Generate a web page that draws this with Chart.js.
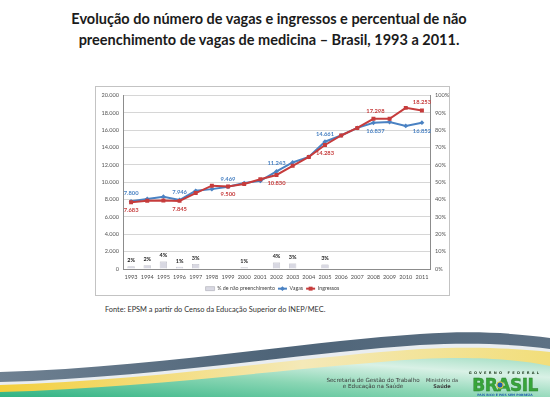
<!DOCTYPE html>
<html>
<head>
<meta charset="utf-8">
<script src="https://cdn.jsdelivr.net/npm/chart.js@4.4.1/dist/chart.umd.min.js"></script>
<style>
  body { margin: 0; width: 550px; height: 397px; background: #fff; position: relative; overflow: hidden; font-family: Lato, "Open Sans", sans-serif; }
  #titulo { position: absolute; left: 0; top: 9px; width: 538px; text-align: center; font-weight: bold; font-size: 14.5px; line-height: 20.5px; color: #1b1b1b; }
  #caixa { position: absolute; left: 95px; top: 86px; width: 355px; height: 210px; border: 1px solid #c3c3c3; box-sizing: border-box; background: #fff; }
  #fonte { position: absolute; left: 105px; top: 305px; font-size: 7.4px; color: #333; }
  #rodape { position: absolute; left: 0; top: 0; }
</style>
</head>
<body>
<div id="titulo">Evolução do número de vagas e ingressos e percentual de não<br>preenchimento de vagas de medicina – Brasil, 1993 a 2011.</div>
<div id="caixa"><canvas id="grafico" width="353" height="208"></canvas></div>
<div id="fonte">Fonte: EPSM a partir do Censo da Educação Superior do INEP/MEC.</div>

<svg id="rodape" width="550" height="397" viewBox="0 0 550 397">
  <defs>
    <linearGradient id="gEscuro" x1="0" y1="0" x2="1" y2="0">
      <stop offset="0" stop-color="#6f8192"/>
      <stop offset="0.5" stop-color="#4e6478"/>
      <stop offset="1" stop-color="#5d7184"/>
    </linearGradient>
    <linearGradient id="gAmarelo" x1="0" y1="0" x2="1" y2="0">
      <stop offset="0" stop-color="#f3cf3c"/>
      <stop offset="0.55" stop-color="#f4e9b8"/>
      <stop offset="1" stop-color="#f2de7a"/>
    </linearGradient>
    <linearGradient id="gVerde" x1="0" y1="1" x2="1" y2="0">
      <stop offset="0" stop-color="#2fb383"/>
      <stop offset="0.45" stop-color="#8ad6b4"/>
      <stop offset="0.75" stop-color="#d9f1e6"/>
      <stop offset="1" stop-color="#9fdcc0"/>
    </linearGradient>
  </defs>
  <path d="M0,372 C150,368 300,342 420,334 C480,330 520,334 550,338 L550,397 L0,397 Z" fill="url(#gEscuro)"/>
  <path d="M0,382 C150,378 300,353 420,345 C480,342 520,345 550,349 L550,397 L0,397 Z" fill="#e9edf0"/>
  <path d="M0,385 C150,381 300,357 420,349 C480,346 520,349 550,352 L550,397 L0,397 Z" fill="url(#gAmarelo)"/>
  <path d="M0,392 C150,388 300,367 420,359 C480,356 520,360 550,366 L550,397 L0,397 Z" fill="url(#gVerde)"/>
  <g font-family="'DejaVu Sans', sans-serif" fill="#3a3a3a" text-anchor="middle">
    <text x="373" y="382" font-size="5.6">Secretaria de Gestão do Trabalho</text>
    <text x="373" y="388" font-size="5.6">e Educação na Saúde</text>
    <text x="442" y="382" font-size="5">Ministério da</text>
    <text x="442" y="388" font-size="5" font-weight="bold">Saúde</text>
    <text x="505" y="374" font-size="3.6" font-weight="bold" letter-spacing="2.2" fill="#1d3a1d">GOVERNO FEDERAL</text>
    <text x="505" y="391" font-size="17" font-weight="bold" fill="#37a53a" stroke="#2c7d2c" stroke-width="0.4" letter-spacing="-0.5">BRASIL</text>
    <circle cx="500" cy="385" r="3.2" fill="#1f5fae" stroke="#f5d531" stroke-width="1"/>
    <text x="505" y="396" font-size="3.1" font-weight="bold" fill="#1f5fae">PAÍS RICO É PAÍS SEM POBREZA</text>
  </g>
</svg>

<script>
// Dados
const anos = ['1993', '1994', '1995', '1996', '1997', '1998', '1999', '2000', '2001', '2002',
              '2003', '2004', '2005', '2006', '2007', '2008', '2009', '2010', '2011'];
const vagas = [7800, 8070, 8330, 7946, 9010, 9200, 9469, 9900, 10150, 11243,
               12270, 12910, 14661, 15380, 16250, 16837, 16930, 16480, 16852];
const ingressos = [7683, 7870, 7900, 7845, 8750, 9600, 9500, 9800, 10340, 10830,
                   11890, 12910, 14283, 15380, 16250, 17298, 17300, 18560, 18253];
// % de não preenchimento (só anos com vagas ociosas)
const naoPreenchimento = [1.6, 2.2, 4.3, 1.3, 2.9, null, null, 1.0, null, 3.7,
                          3.2, null, 2.6, null, null, null, null, null, null];
// anos com rótulo de valor nas linhas
const anosComRotulo = [0, 3, 6, 9, 12, 15, 18];

const AZUL = '#4a82c3';
const VERMELHO = '#c63c3c';

function milhar(v) {
    return String(v).replace(/\B(?=(\d{3})+(?!\d))/g, '.');
}

// Rótulos de dados (valores sobre pontos e barras)
const rotulos = {
    id: 'rotulos',
    afterDatasetsDraw(chart) {
        const ctx = chart.ctx;
        ctx.save();
        ctx.textAlign = 'center';
        ctx.textBaseline = 'middle';
        chart.data.datasets.forEach((ds, di) => {
            const meta = chart.getDatasetMeta(di);
            meta.data.forEach((el, i) => {
                const v = ds.data[i];
                if (v === null) return;
                if (ds.type === 'bar') {
                    ctx.font = 'bold 5.5px Lato, sans-serif';
                    ctx.fillStyle = '#222';
                    ctx.fillText(Math.round(v) + '%', el.x, el.y - 6);
                    return;
                }
                if (!anosComRotulo.includes(i)) return;
                // antes de 2008 azul fica acima e vermelho abaixo; depois inverte
                let acima = i < 15;
                if (ds.label === 'Ingressos') acima = !acima;
                ctx.font = 'bold 5.8px Lato, sans-serif';
                ctx.fillStyle = ds.borderColor;
                ctx.fillText(milhar(v), el.x + (i === 15 ? 2 : 0), el.y + (acima ? -8 : 8));
            });
        });
        ctx.restore();
    }
};

// Desenha o marcador no meio da linha da legenda
const marcadorLegenda = {
    id: 'marcadorLegenda',
    afterDraw(chart) {
        const leg = chart.legend;
        if (!leg || !leg.legendHitBoxes) return;
        const ctx = chart.ctx;
        leg.legendHitBoxes.forEach((hb, i) => {
            const ds = chart.data.datasets[i];
            if (ds.type === 'bar') return;
            ctx.save();
            ctx.fillStyle = ds.borderColor;
            ctx.strokeStyle = ds.borderColor;
            Chart.helpers.drawPoint(ctx, { pointStyle: ds.pointStyle, radius: ds.pointRadius, borderWidth: 0 },
                hb.left + 4.5, hb.top + hb.height / 2);
            ctx.restore();
        });
    }
};

// Altura fixa da legenda
const alturaLegenda = {
    id: 'alturaLegenda',
    beforeUpdate(chart) {
        const leg = chart.legend;
        if (leg && !leg._ajustada) {
            const fit = leg.fit;
            leg.fit = function () { fit.call(this); this.height = 12; };
            leg._ajustada = true;
        }
    }
};

const fonteEixo = { family: 'Lato, sans-serif', size: 5.6 };

new Chart(document.getElementById('grafico'), {
    data: {
        labels: anos,
        datasets: [
            {
                type: 'bar',
                label: '% de não preenchimento',
                data: naoPreenchimento,
                yAxisID: 'y1',
                backgroundColor: '#d9d9e3',
                borderColor: '#a9a9b4',
                borderWidth: 0.6,
                barPercentage: 0.45,
                categoryPercentage: 1,
                order: 2
            },
            {
                type: 'line',
                label: 'Vagas',
                data: vagas,
                yAxisID: 'y',
                borderColor: AZUL,
                backgroundColor: AZUL,
                borderWidth: 2,
                pointStyle: 'rectRot',
                pointRadius: 2.4,
                pointBorderWidth: 0,
                tension: 0,
                order: 1
            },
            {
                type: 'line',
                label: 'Ingressos',
                data: ingressos,
                yAxisID: 'y',
                borderColor: VERMELHO,
                backgroundColor: VERMELHO,
                borderWidth: 2,
                pointStyle: 'rect',
                pointRadius: 2.8,
                pointBorderWidth: 0,
                tension: 0,
                order: 0
            }
        ]
    },
    options: {
        responsive: false,
        animation: false,
        layout: { padding: { top: 6, bottom: 0, left: 0, right: 0 } },
        scales: {
            x: {
                offset: true,
                grid: { display: false, drawTicks: false },
                border: { display: true, color: '#8c8c8c' },
                ticks: { font: fonteEixo, color: '#4d4d4d', padding: 5, maxRotation: 0, autoSkip: false },
                afterFit(s) { s.height = 14; }
            },
            y: {
                position: 'left',
                min: 0, max: 20000,
                ticks: { stepSize: 2000, font: fonteEixo, color: '#555', padding: 4, callback: v => milhar(v) },
                grid: { color: '#d6d6d6', drawTicks: false },
                border: { display: true, color: '#8c8c8c' },
                afterFit(s) { s.width = 27; }
            },
            y1: {
                position: 'right',
                min: 0, max: 100,
                ticks: { stepSize: 10, font: fonteEixo, color: '#555', padding: 5, callback: v => v + '%' },
                grid: { drawOnChartArea: false, drawTicks: false },
                border: { display: true, color: '#8c8c8c' },
                afterFit(s) { s.width = 19; }
            }
        },
        plugins: {
            legend: {
                position: 'bottom',
                labels: {
                    usePointStyle: true,
                    pointStyleWidth: 9,
                    boxHeight: 4,
                    padding: 3,
                    color: '#444',
                    font: { family: 'Lato, sans-serif', size: 5.3 },
                    generateLabels(chart) {
                        return chart.data.datasets.map((ds, i) => ({
                            text: ds.label,
                            fillStyle: ds.backgroundColor,
                            strokeStyle: ds.borderColor,
                            lineWidth: ds.type === 'bar' ? 0.6 : 2,
                            pointStyle: ds.type === 'bar' ? 'rect' : 'line',
                            fontColor: '#444',
                            datasetIndex: i
                        }));
                    }
                }
            },
            tooltip: { enabled: false }
        }
    },
    plugins: [rotulos, marcadorLegenda, alturaLegenda]
});
</script>
</body>
</html>
